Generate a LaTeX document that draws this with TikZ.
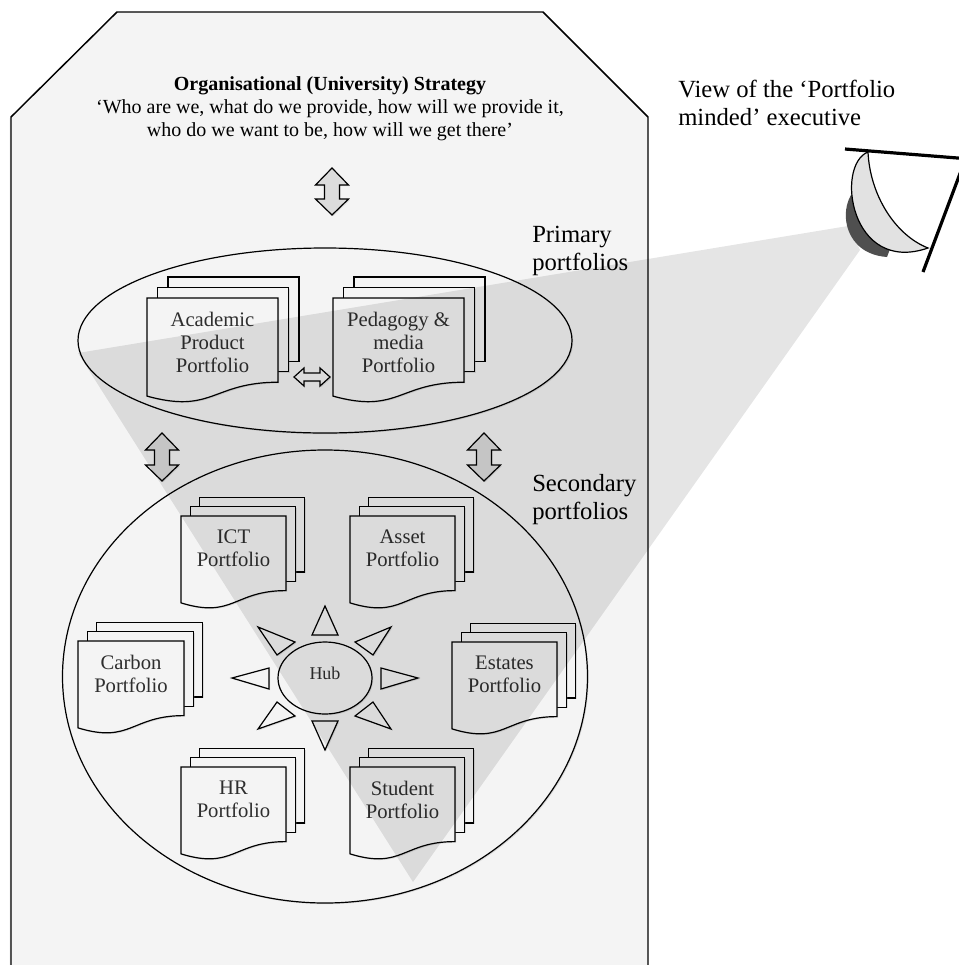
\documentclass[tikz,border=0pt]{standalone}
\usepackage{fontspec}
\setmainfont{Liberation Serif}
\usetikzlibrary{shadows}

\definecolor{panelgray}{HTML}{F4F4F4}
\definecolor{arrowgray}{HTML}{DCDCDC}
\definecolor{lensgray}{HTML}{E2E2E2}
\definecolor{lensdark}{HTML}{4F4F4F}

% stacked multi-document symbol: #1 left, #2 top, #3 width, #4 height, #5 page offset
\newcommand{\docstack}[5]{%
  \pgfmathsetmacro\dsR{#1+#3}%
  \pgfmathsetmacro\dsM{#1+0.5*#3}%
  \pgfmathsetmacro\dsB{#2+0.802*#4}%
  \pgfmathsetmacro\dsL{#2+0.934*#4}%
  \pgfmathsetmacro\dsC{#2+1.1075*#4}%
  \pgfmathsetmacro\dsA{#5}%
  \pgfmathsetmacro\dsD{2*#5}%
  \path[page] (#1+\dsD,#2-\dsD) rectangle (\dsR+\dsD,\dsB-\dsD);
  \path[page] (#1+\dsA,#2-\dsA) rectangle (\dsR+\dsA,\dsB-\dsA);
  \path[page] (#1,#2) -- (\dsR,#2) -- (\dsR,\dsB)
     .. controls (\dsM,\dsB) and (\dsM,\dsC) .. (#1,\dsL) -- cycle;
}

% vertical two-headed block arrow: #1 centre x, #2 top tip, #3 bottom tip
\newcommand{\vdblarrow}[3]{%
  \path[blockarrow] (#1,#2) -- (#1+16.5,#2+17) -- (#1+7.5,#2+17)
    -- (#1+7.5,#3-16) -- (#1+16.5,#3-16) -- (#1,#3) -- (#1-16.5,#3-16)
    -- (#1-7.5,#3-16) -- (#1-7.5,#2+17) -- (#1-16.5,#2+17) -- cycle;
}

\begin{document}
\begin{tikzpicture}[x=0.75pt,y=-0.75pt,
  outline/.style={draw=black, line width=0.9pt},
  shade/.style={drop shadow={shadow xshift=0.9pt, shadow yshift=-0.9pt, opacity=0.22}},
  page/.style={outline, fill=panelgray, shade},
  blockarrow/.style={outline, fill=arrowgray, shade},
  hollow/.style={outline, fill=panelgray, shade},
  doctext/.style={align=center, inner sep=0pt, text=black!82,
    font=\fontsize{15.5}{17.25}\selectfont},
  sidelabel/.style={align=left, anchor=west, inner sep=0pt,
    font=\fontsize{18.5}{21}\selectfont},
]
\clip (0,0) rectangle (959,965);
\fill[white] (0,0) rectangle (959,965);

% strategy panel with bevelled top corners
\path[draw=black, line width=1.1pt, fill=panelgray,
      drop shadow={shadow xshift=-1pt, shadow yshift=-1pt, opacity=0.15}]
  (11,990) -- (11,117) -- (117,12) -- (543,12) -- (648,117) -- (648,990);

\node[align=center, inner sep=0pt, font=\fontsize{15}{17.25}\selectfont] (strategy) at (330,109)
  {\textbf{Organisational (University) Strategy}\\
   ‘Who are we, what do we provide, how will we provide it,\\
   who do we want to be, how will we get there’};

\vdblarrow{332}{168}{215}

% primary portfolios
\path[hollow] (325,340.5) ellipse [x radius=247, y radius=92.5];
\docstack{147}{298}{131}{105}{10.5}
\docstack{333}{298}{131}{105}{10.5}
\node[doctext] (academic) at (212.5,342) {Academic\\Product\\Portfolio};
\node[doctext] (pedagogy) at (398.5,342) {Pedagogy \&\\media\\Portfolio};
\path[hollow] (294,377) -- (304,368) -- (304,373) -- (320,373) -- (320,368)
  -- (330,377) -- (320,386) -- (320,381) -- (304,381) -- (304,386) -- cycle;

\vdblarrow{162}{433}{481}
\vdblarrow{484}{433}{481}

% secondary portfolios
\path[hollow] (325,676.5) ellipse [x radius=262.5, y radius=226.5];
\docstack{181}{516}{105}{93}{9.3}
\docstack{350}{516}{105}{93}{9.3}
\docstack{78}{641}{106}{93}{9.3}
\docstack{452}{642}{105}{93}{9.3}
\docstack{181}{767}{105}{93}{9.3}
\docstack{350}{767}{105}{93}{9.3}
\node[doctext] (ict) at (233.5,548.5) {ICT\\Portfolio};
\node[doctext] (asset) at (402.5,548.5) {Asset\\Portfolio};
\node[doctext] (carbon) at (131,673.5) {Carbon\\Portfolio};
\node[doctext] (estates) at (504.5,674.5) {Estates\\Portfolio};
\node[doctext] (hr) at (233.5,799.5) {HR\\Portfolio};
\node[doctext] (student) at (402.5,799.5) {Student\\Portfolio};

% hub with its rays
\path[hollow] (325,678) ellipse [x radius=47, y radius=36];
\node[inner sep=0pt, text=black!82, font=\fontsize{13.5}{15}\selectfont] (hub) at (325,673) {Hub};
\path[hollow] (325,606) -- (312,635) -- (338,635) -- cycle;
\path[hollow] (312,721) -- (338,721) -- (325,750) -- cycle;
\path[hollow] (232,678) -- (269,668) -- (269,689) -- cycle;
\path[hollow] (381,668) -- (381,689) -- (418,678) -- cycle;
\path[hollow] (258,627) -- (295,642) -- (277,655) -- cycle;
\path[hollow] (391,627) -- (355,642) -- (373,655) -- cycle;
\path[hollow] (277,702) -- (295,716) -- (258,729) -- cycle;
\path[hollow] (373,702) -- (355,716) -- (391,729) -- cycle;

\node[sidelabel] (primary) at (532,251) {Primary\\portfolios};
\node[sidelabel] (secondary) at (532,500) {Secondary\\portfolios};

% field of view of the executive
\fill[black, opacity=0.1] (848,226) -- (78,353) -- (413,882) -- (860,250) -- cycle;

% the viewer
\fill[lensdark] (853,192) .. controls (838,212) and (845,254) .. (887,257)
  -- (890,249) -- (860,200) -- cycle;
\path[draw=black, line width=0.9pt, fill=lensgray]
  (868,152) .. controls (835,165) and (850,275) .. (928,248)
  .. controls (895,235) and (870,195) .. (868,152) -- cycle;
\draw[line width=2.4pt] (845,149) -- (970,159);
\draw[line width=2.4pt] (923,272) -- (967,155);

\node[sidelabel] (viewer) at (678,103) {View of the ‘Portfolio\\minded’ executive};
\end{tikzpicture}
\end{document}
